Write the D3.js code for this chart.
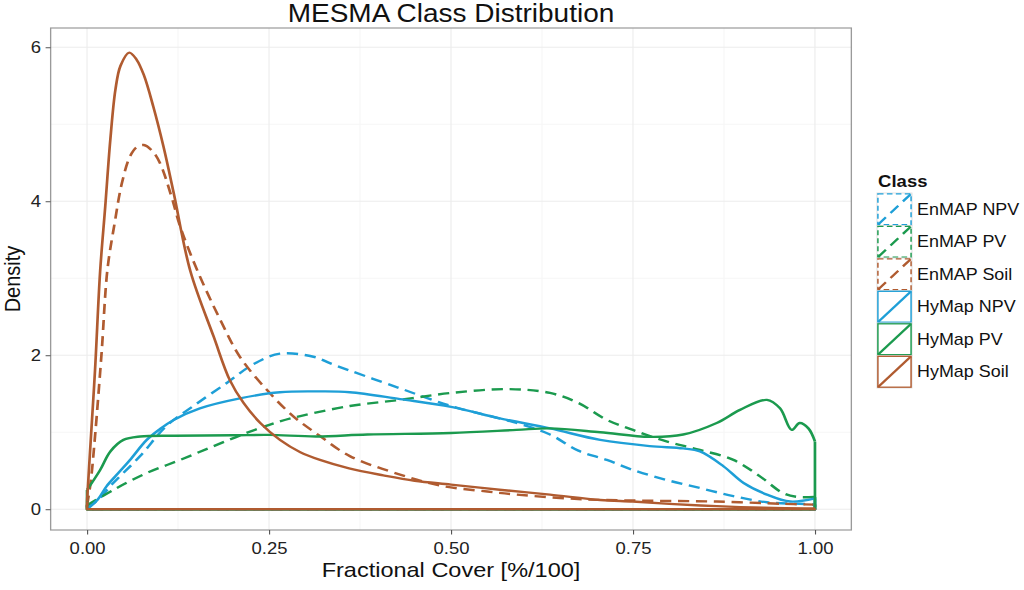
<!DOCTYPE html>
<html>
<head>
<meta charset="utf-8">
<script src="https://cdn.jsdelivr.net/npm/d3@7"></script>
<style>
  html, body { margin: 0; padding: 0; background: #fff; }
  svg { display: block; }
  text { font-family: "Liberation Sans", Arial, sans-serif; }
</style>
</head>
<body>
<div id="chart"></div>
<script>
// Density curves: [fractional cover, density]
const enmapNPV = [[0, 0.02], [0.015, 0.12], [0.036, 0.34], [0.073, 0.69], [0.109, 1.08], [0.146, 1.34],
  [0.192, 1.64], [0.228, 1.88], [0.265, 2.02], [0.311, 1.98], [0.338, 1.88], [0.43, 1.57], [0.5, 1.34],
  [0.59, 1.12], [0.636, 0.97], [0.675, 0.76], [0.714, 0.64], [0.75, 0.51], [0.796, 0.38], [0.842, 0.275],
  [0.888, 0.17], [0.934, 0.09], [0.979, 0.07], [1.0, 0.06]];
const enmapPV = [[0, 0.05], [0.036, 0.25], [0.082, 0.47], [0.128, 0.64], [0.174, 0.82], [0.219, 0.99],
  [0.265, 1.14], [0.293, 1.21], [0.361, 1.34], [0.43, 1.42], [0.5, 1.51], [0.577, 1.56], [0.636, 1.51],
  [0.675, 1.38], [0.714, 1.16], [0.75, 1.03], [0.796, 0.88], [0.842, 0.77], [0.888, 0.64], [0.924, 0.43],
  [0.956, 0.21], [0.975, 0.16], [1.0, 0.16]];
const enmapSoil = [[0, 0.05], [0.005, 0.35], [0.011, 0.95], [0.02, 2.03], [0.028, 3.11], [0.038, 3.72],
  [0.048, 4.24], [0.059, 4.58], [0.068, 4.70], [0.078, 4.73], [0.089, 4.66], [0.1, 4.50], [0.116, 4.06],
  [0.128, 3.67], [0.152, 3.09], [0.183, 2.46], [0.21, 1.98], [0.247, 1.55], [0.283, 1.21], [0.32, 0.95],
  [0.361, 0.69], [0.43, 0.45], [0.489, 0.30], [0.55, 0.23], [0.59, 0.19], [0.68, 0.13], [0.773, 0.11],
  [0.865, 0.10], [0.956, 0.07], [1.0, 0.06]];
const hymapNPV = [[0, 0.0], [0.015, 0.13], [0.027, 0.30], [0.043, 0.47], [0.059, 0.64], [0.082, 0.90],
  [0.1, 1.04], [0.119, 1.16], [0.155, 1.31], [0.21, 1.44], [0.265, 1.52], [0.32, 1.53], [0.361, 1.52],
  [0.43, 1.43], [0.5, 1.33], [0.567, 1.18], [0.636, 1.05], [0.705, 0.90], [0.773, 0.82], [0.819, 0.79],
  [0.842, 0.75], [0.874, 0.56], [0.902, 0.34], [0.934, 0.19], [0.966, 0.10], [1.0, 0.14]];
const hymapPV = [[0, 0.25], [0.018, 0.51], [0.032, 0.75], [0.05, 0.90], [0.073, 0.945], [0.12, 0.955],
  [0.2, 0.96], [0.25, 0.965], [0.315, 0.945], [0.385, 0.97], [0.5, 0.99], [0.59, 1.03], [0.636, 1.05],
  [0.705, 1.0], [0.773, 0.94], [0.819, 0.97], [0.865, 1.12], [0.897, 1.29], [0.934, 1.42], [0.952, 1.31],
  [0.968, 1.03], [0.979, 1.12], [0.991, 1.05], [1.0, 0.88]];
const hymapSoil = [[0, 0.1], [0.004, 0.73], [0.011, 1.81], [0.018, 3.09], [0.025, 3.93], [0.032, 4.80],
  [0.039, 5.45], [0.046, 5.76], [0.058, 5.93], [0.068, 5.84], [0.078, 5.64], [0.091, 5.23], [0.105, 4.71],
  [0.119, 4.11], [0.142, 3.09], [0.174, 2.24], [0.196, 1.68], [0.215, 1.38], [0.238, 1.12], [0.265, 0.90],
  [0.293, 0.74], [0.32, 0.64], [0.36, 0.53], [0.407, 0.44], [0.45, 0.37], [0.5, 0.32],
  [0.57, 0.25], [0.636, 0.19], [0.705, 0.12], [0.75, 0.10], [0.8, 0.07], [0.865, 0.04], [0.93, 0.02], [1.0, 0.01]];

const classNames = ["EnMAP NPV", "EnMAP PV", "EnMAP Soil", "HyMap NPV", "HyMap PV", "HyMap Soil"];
const classData = [enmapNPV, enmapPV, enmapSoil, hymapNPV, hymapPV, hymapSoil];
const xTicks = [0, 0.25, 0.5, 0.75, 1];
const xMinor = [0.125, 0.375, 0.625, 0.875];
const yTicks = [0, 2, 4, 6];
const yMinor = [1, 3, 5];

// the reference is a little wider than tall, so draw in a narrower box and stretch it
const W = 914, H = 590;
const PANEL = {LEFT: 45.2, RIGHT: 759.9, TOP: 28, BOTTOM: 530};
const BLUE = "#1e9fd7", GREEN = "#1b9a4e", BROWN = "#b05b30";
const colorOf = (name) => name.endsWith("NPV") ? BLUE : name.endsWith("PV") ? GREEN : BROWN;
const isDashed = (name) => name.startsWith("EnMAP");
const DASH = "10,6";

const svg = d3.select("#chart")
  .append("svg")
  .attr("width", 1024)
  .attr("height", H)
  .attr("viewBox", `0 0 ${W} ${H}`)
  .attr("preserveAspectRatio", "none");

const x = d3.scaleLinear().domain([-0.05, 1.05]).range([PANEL.LEFT, PANEL.RIGHT]);
const y = d3.scaleLinear().domain([-0.27, 6.25]).range([PANEL.BOTTOM, PANEL.TOP]);

// panel grid
const grid = svg.append("g");
grid.selectAll(".xminor").data(xMinor).enter().append("line")
  .attr("x1", x).attr("x2", x).attr("y1", PANEL.TOP).attr("y2", PANEL.BOTTOM)
  .attr("stroke", "#f6f6f6").attr("stroke-width", 1);
grid.selectAll(".yminor").data(yMinor).enter().append("line")
  .attr("y1", y).attr("y2", y).attr("x1", PANEL.LEFT).attr("x2", PANEL.RIGHT)
  .attr("stroke", "#f6f6f6").attr("stroke-width", 1);
grid.selectAll(".xmajor").data(xTicks).enter().append("line")
  .attr("x1", x).attr("x2", x).attr("y1", PANEL.TOP).attr("y2", PANEL.BOTTOM)
  .attr("stroke", "#ececec").attr("stroke-width", 1);
grid.selectAll(".ymajor").data(yTicks).enter().append("line")
  .attr("y1", y).attr("y2", y).attr("x1", PANEL.LEFT).attr("x2", PANEL.RIGHT)
  .attr("stroke", "#ececec").attr("stroke-width", 1);

// density outlines, closed down to zero like geom_density
const curve = d3.line().x(d => x(d[0])).y(d => y(d[1])).curve(d3.curveCatmullRom.alpha(0.5));
const straight = d3.line().x(d => x(d[0])).y(d => y(d[1]));

const curves = svg.append("g")
  .selectAll("g")
  .data(classNames)
  .enter()
  .append("g")
  .attr("fill", "none")
  .attr("stroke", d => colorOf(d))
  .attr("stroke-width", 2.4)
  .attr("stroke-linejoin", "round")
  .attr("stroke-dasharray", d => isDashed(d) ? DASH : null);

curves.append("path")
  .attr("d", (d, i) => curve(classData[i]));
curves.append("path")
  .attr("d", (d, i) => {
    const pts = classData[i];
    return straight([pts[pts.length - 1], [1, 0], [0, 0], pts[0]]);
  });

// panel border
svg.append("rect")
  .attr("x", PANEL.LEFT).attr("y", PANEL.TOP)
  .attr("width", PANEL.RIGHT - PANEL.LEFT).attr("height", PANEL.BOTTOM - PANEL.TOP)
  .attr("fill", "none").attr("stroke", "#9a9a9a").attr("stroke-width", 1.2);

// axes
const xAxis = svg.append("g")
  .attr("transform", `translate(0,${PANEL.BOTTOM})`)
  .call(d3.axisBottom(x).tickValues(xTicks).tickFormat(d3.format(".2f")).tickSize(4.5).tickPadding(4));
const yAxis = svg.append("g")
  .attr("transform", `translate(${PANEL.LEFT},0)`)
  .call(d3.axisLeft(y).tickValues(yTicks).tickFormat(d3.format("d")).tickSize(4.5).tickPadding(4));
[xAxis, yAxis].forEach(a => {
  a.select(".domain").remove();
  a.selectAll(".tick line").attr("stroke", "#555").attr("stroke-width", 1);
  a.selectAll(".tick text")
    .attr("fill", "#222")
    .style("font-size", "16.5px")
    .style("font-family", "'Liberation Sans', Arial, sans-serif");
});
xAxis.selectAll(".tick text").attr("dy", "0.95em");

// titles
svg.append("text")
  .attr("x", (PANEL.LEFT + PANEL.RIGHT) / 2).attr("y", 22)
  .attr("text-anchor", "middle")
  .style("font-size", "25px")
  .attr("fill", "#111")
  .text("MESMA Class Distribution");

svg.append("text")
  .attr("x", (PANEL.LEFT + PANEL.RIGHT) / 2).attr("y", 577)
  .attr("text-anchor", "middle")
  .style("font-size", "21px")
  .attr("fill", "#111")
  .text("Fractional Cover [%/100]");

svg.append("text")
  .attr("transform", `translate(17.5,${(PANEL.TOP + PANEL.BOTTOM) / 2}) rotate(-90)`)
  .attr("text-anchor", "middle")
  .style("font-size", "20px")
  .attr("fill", "#111")
  .text("Density");

// legend
const LEG = {X: 782.8, Y: 193, KEYW: 31.2, KEYH: 32.5};
const legend = svg.append("g");

legend.append("text")
  .attr("x", LEG.X + 1).attr("y", 187)
  .style("font-size", "16.5px")
  .style("font-weight", "bold")
  .attr("fill", "#111")
  .text("Class");

const keys = legend.selectAll(".key")
  .data(classNames)
  .enter()
  .append("g")
  .attr("transform", (d, i) => `translate(${LEG.X},${LEG.Y + i * LEG.KEYH})`);

keys.append("rect")
  .attr("width", LEG.KEYW).attr("height", LEG.KEYH)
  .attr("fill", "#fff").attr("stroke", "#d9d9d9").attr("stroke-width", 0.8);
keys.append("rect")
  .attr("x", 0.8).attr("y", 0.8)
  .attr("width", LEG.KEYW - 1.6).attr("height", LEG.KEYH - 1.6)
  .attr("fill", "none")
  .attr("stroke", d => colorOf(d))
  .attr("stroke-width", 1.3)
  .attr("stroke-dasharray", d => isDashed(d) ? "5,3" : null);
keys.append("line")
  .attr("x1", 1).attr("y1", LEG.KEYH - 1)
  .attr("x2", LEG.KEYW - 1).attr("y2", 1)
  .attr("stroke", d => colorOf(d))
  .attr("stroke-width", 2.2)
  .attr("stroke-dasharray", d => isDashed(d) ? DASH : null);
keys.append("text")
  .attr("x", 35.7).attr("y", LEG.KEYH / 2 + 5.5)
  .style("font-size", "16px")
  .attr("fill", "#111")
  .text(d => d);
</script>
</body>
</html>
